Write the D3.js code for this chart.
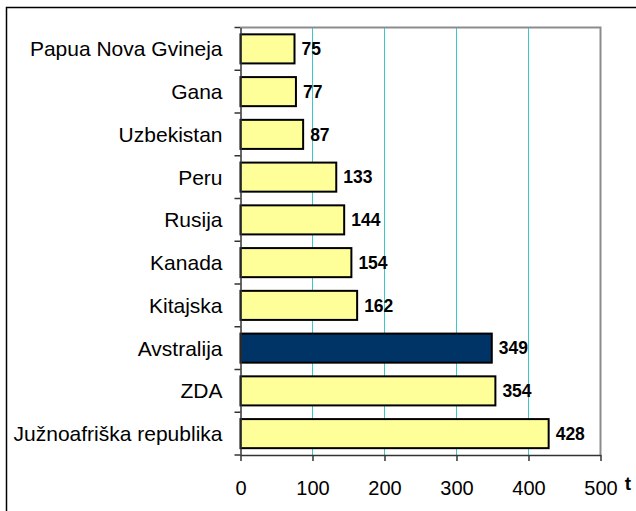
<!DOCTYPE html>
<html>
<head>
<meta charset="utf-8">
<script src="https://cdn.jsdelivr.net/npm/d3@7"></script>
<style>
  html, body { margin: 0; padding: 0; background: #fff; }
  svg { display: block; }
  text { font-family: Arial, "Liberation Sans", sans-serif; }
</style>
</head>
<body>
<svg id="chart" width="636" height="511"></svg>
<script>
const categories = ["Papua Nova Gvineja", "Gana", "Uzbekistan", "Peru", "Rusija", "Kanada", "Kitajska", "Avstralija", "ZDA", "Južnoafriška republika"];
const values = [75, 77, 87, 133, 144, 154, 162, 349, 354, 428];
const highlighted = ["Avstralija"];
const xTicks = [0, 100, 200, 300, 400, 500];
const unitLabel = "t";

const svg = d3.select("#chart");
const W = 636, H = 511;
const pLeft = 240.5, pRight = 600.5, pTop = 27.5, pBottom = 455;

// outer border
svg.append("rect").attr("x", 6.5).attr("y", 7.5).attr("width", W).attr("height", H)
  .attr("fill", "none").attr("stroke", "#000").attr("stroke-width", 1.5);

const x = d3.scaleLinear().domain([0, 500]).range([pLeft, pRight]);
const y = d3.scaleBand().domain(categories).range([pTop, pBottom]).paddingInner(0.32).paddingOuter(0.16);

// gridlines
svg.append("g").selectAll("line").data(xTicks.filter(t => t > 0 && t < 500)).join("line")
  .attr("x1", d => x(d)).attr("x2", d => x(d)).attr("y1", pTop).attr("y2", pBottom)
  .attr("stroke", "#3cc8c8").attr("stroke-width", 1);

// plot frame top & right
svg.append("path").attr("d", `M${pLeft},${pTop}H${pRight}V${pBottom}`)
  .attr("fill", "none").attr("stroke", "#8c8c8c").attr("stroke-width", 2);

// bars
svg.append("g").selectAll("rect").data(categories).join("rect")
  .attr("x", x(0))
  .attr("y", d => y(d))
  .attr("width", (d, i) => x(values[i]) - x(0))
  .attr("height", y.bandwidth())
  .attr("fill", d => highlighted.includes(d) ? "#003366" : "#ffff99")
  .attr("stroke", "#000").attr("stroke-width", 2);

// value labels
svg.append("g").selectAll("text").data(categories).join("text")
  .attr("x", (d, i) => x(values[i]) + 7)
  .attr("y", d => y(d) + y.bandwidth() / 2)
  .attr("dy", "0.36em")
  .attr("font-size", 17.5).attr("font-weight", "bold").attr("fill", "#000")
  .text((d, i) => values[i]);

// x axis
const xAxis = d3.axisBottom(x).tickValues(xTicks).tickSize(6).tickSizeOuter(0);
const gx = svg.append("g").attr("transform", `translate(0,${pBottom})`).call(xAxis);
gx.select(".domain").attr("stroke", "#333").attr("stroke-width", 1.5);
gx.selectAll(".tick line").attr("stroke", "#333").attr("stroke-width", 1.5);
gx.selectAll(".tick text").attr("font-size", 20).attr("fill", "#000")
  .attr("font-family", "Arial, 'Liberation Sans', sans-serif").attr("dy", "0.9em").attr("y", 22);

// y axis
const yAxis = d3.axisLeft(y).tickSize(0).tickSizeOuter(0);
const gy = svg.append("g").attr("transform", `translate(${pLeft},0)`).call(yAxis);
gy.select(".domain").attr("stroke", "#333").attr("stroke-width", 1.5);
gy.selectAll(".tick text").attr("font-size", 21).attr("fill", "#000")
  .attr("font-family", "Arial, 'Liberation Sans', sans-serif").attr("x", -18).attr("dy", "0.36em");

// category boundary ticks on left axis
const boundaries = d3.range(categories.length + 1).map(i => pTop + i * ((pBottom - pTop) / categories.length));
svg.append("g").selectAll("line").data(boundaries).join("line")
  .attr("x1", pLeft - 6).attr("x2", pLeft).attr("y1", d => d).attr("y2", d => d)
  .attr("stroke", "#333").attr("stroke-width", 1.5);

// unit label
svg.append("text").attr("x", 628).attr("y", 490).attr("font-size", 19).attr("font-weight", "bold")
  .attr("fill", "#000").attr("text-anchor", "middle").text(unitLabel);
</script>
</body>
</html>
